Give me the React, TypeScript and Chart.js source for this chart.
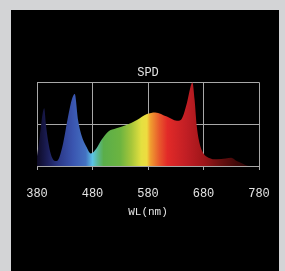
import React, { useEffect, useRef } from "react";
import { Chart, registerables } from "chart.js";

Chart.register(...registerables);

const wavelengths = [380, 385, 390, 393, 396, 400, 405, 410, 415, 420, 427, 436, 443, 448, 454, 460, 469, 477, 487, 496, 508, 523, 541, 560, 578, 593, 614, 632, 639, 650, 656, 660, 664, 668, 673, 680, 689, 704, 720, 730, 740, 752, 762, 780];
const intensity = [0.12, 0.35, 0.62, 0.69, 0.5, 0.3, 0.14, 0.07, 0.06, 0.1, 0.27, 0.59, 0.8, 0.86, 0.55, 0.37, 0.23, 0.15, 0.21, 0.31, 0.41, 0.45, 0.49, 0.55, 0.62, 0.64, 0.59, 0.54, 0.55, 0.75, 0.93, 1.0, 0.79, 0.47, 0.27, 0.15, 0.1, 0.08, 0.09, 0.1, 0.06, 0.025, 0, 0];
const xTicks = [380, 480, 580, 680, 780];

const gradientWL = [380, 400, 420, 445, 468, 480, 490, 500, 530, 550, 568, 578, 584, 600, 615, 650, 680, 710, 740, 780];
const gradientColors = ["#0d0a25", "#1c1f5a", "#2c3a8a", "#3a55b0", "#4472c2", "#5bc4e6", "#5ab890", "#5aae4a", "#6cb440", "#a6c63a", "#e4e040", "#eedc40", "#f0a030", "#e85a2c", "#e22a28", "#c01e24", "#a0161a", "#6a1010", "#400808", "#200404"];

const FONT = "'Liberation Mono', 'Courier New', monospace";

export default function App() {
  const ref = useRef<HTMLCanvasElement | null>(null);

  useEffect(() => {
    if (!ref.current) return;
    const chart = new Chart(ref.current, {
      type: "line",
      data: {
        datasets: [
          {
            data: wavelengths.map((w, i) => ({ x: w, y: intensity[i] })),
            fill: "origin",
            borderWidth: 0,
            pointRadius: 0,
            tension: 0.4,
            cubicInterpolationMode: "monotone",
            backgroundColor: (ctx: any) => {
              const { chart } = ctx;
              const area = chart.chartArea;
              if (!area) return "#000";
              const xs = chart.scales.x;
              const g = chart.ctx.createLinearGradient(area.left, 0, area.right, 0);
              gradientWL.forEach((w, i) => {
                const p = (xs.getPixelForValue(w) - area.left) / (area.right - area.left);
                g.addColorStop(Math.min(1, Math.max(0, p)), gradientColors[i]);
              });
              return g;
            },
          },
        ],
      },
      options: {
        animation: false,
        responsive: false,
        devicePixelRatio: 1,
        layout: { padding: { left: 26, right: 20, top: 0, bottom: 52.8 } },
        plugins: {
          legend: { display: false },
          tooltip: { enabled: false },
          title: {
            display: true,
            text: "SPD",
            color: "#e4e4e4",
            font: { family: FONT, size: 12, weight: "normal", lineHeight: 1.2 },
            padding: { top: 55.5, bottom: 2.4 },
          },
        },
        scales: {
          x: {
            type: "linear",
            min: 380,
            max: 780,
            afterBuildTicks: (s: any) => {
              s.ticks = xTicks.map((v) => ({ value: v }));
            },
            afterFit: (s: any) => {
              s.height = 52.2;
              s.paddingLeft = 0;
              s.paddingRight = 0;
            },
            ticks: {
              color: "#e4e4e4",
              font: { family: FONT, size: 12, lineHeight: 1.2 },
              padding: 17,
              maxRotation: 0,
            },
            grid: { color: "#a8a8a8", lineWidth: 1, tickLength: 4, drawTicks: true },
            border: { display: true, color: "#a8a8a8" },
            title: {
              display: true,
              text: "WL(nm)",
              color: "#e4e4e4",
              font: { family: FONT, size: 11, lineHeight: 1.2 },
              padding: { top: 0, bottom: 0 },
            },
          },
          y: {
            min: 0,
            max: 1,
            ticks: { display: false, stepSize: 0.5 },
            grid: { color: "#a8a8a8", lineWidth: 1, drawTicks: false },
            border: { display: true, color: "#a8a8a8" },
            afterFit: (s: any) => {
              s.width = 0;
            },
          },
        },
      },
    });
    return () => chart.destroy();
  }, []);

  return (
    <div style={{ position: "fixed", left: 0, top: 0, width: 285, height: 271, background: "#d3d4d6", overflow: "hidden" }}>
      <div style={{ position: "absolute", left: 11, top: 10, width: 268, height: 261, background: "#000" }}>
        <canvas ref={ref} width={268} height={261} style={{ display: "block", width: 268, height: 261 }} />
      </div>
    </div>
  );
}
